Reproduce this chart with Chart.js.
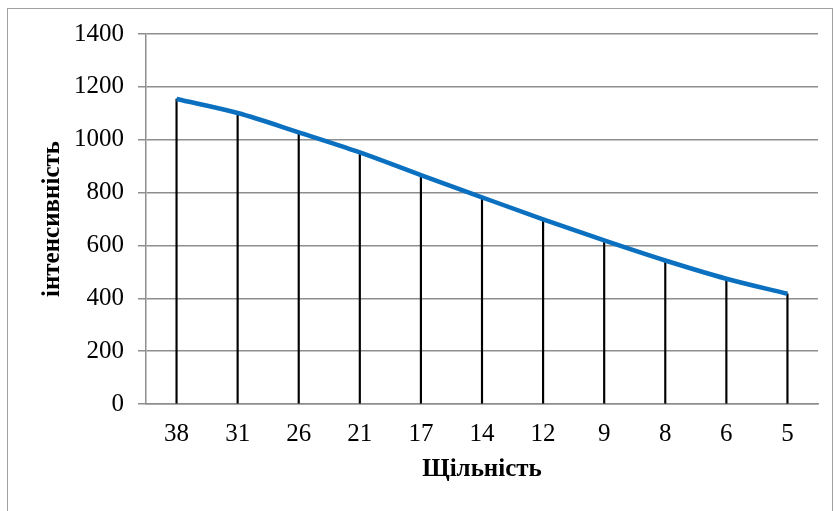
<!DOCTYPE html>
<html>
<head>
<meta charset="utf-8">
<script src="https://cdn.jsdelivr.net/npm/chart.js@4/dist/chart.umd.min.js"></script>
<style>
  html, body { margin: 0; padding: 0; background: #fff; }
  #frame { position: absolute; left: 7px; top: 8px; width: 824px; height: 520px;
           border-left: 1.5px solid #a0a0a0; border-top: 1.5px solid #a0a0a0; border-right: 1.5px solid #a0a0a0; }
  #wrap { position: absolute; left: 0; top: 0; width: 834px; height: 511px; }
</style>
</head>
<body>
<div id="frame"></div>
<div id="wrap"><canvas id="c" width="834" height="511"></canvas></div>
<script>
const categories = ['38', '31', '26', '21', '17', '14', '12', '9', '8', '6', '5'];
const intensity = [1154, 1101, 1028, 952, 866, 782, 699, 619, 543, 474, 417];
const yTicks = [0, 200, 400, 600, 800, 1000, 1200, 1400];
const xTitle = 'Щільність';
const yTitle = 'інтенсивність';

const FONT = "'Liberation Serif', 'Times New Roman', serif";
const GRID = '#8e8e8e';

new Chart(document.getElementById('c'), {
  data: {
    labels: categories,
    datasets: [
      {
        type: 'line',
        data: intensity,
        borderColor: '#0a70bf',
        borderWidth: 4.5,
        pointRadius: 0,
        cubicInterpolationMode: 'monotone',
        fill: false,
        order: 0
      },
      {
        type: 'bar',
        data: intensity,
        backgroundColor: '#000',
        barThickness: 1.5,
        order: 1
      }
    ]
  },
  options: {
    responsive: false,
    animation: false,
    events: [],
    layout: { padding: { left: 0, top: 34, right: 16, bottom: 0 } },
    plugins: { legend: { display: false }, tooltip: { enabled: false } },
    scales: {
      x: {
        offset: true,
        grid: { display: false, drawTicks: false },
        border: { display: true, color: GRID, width: 1.5 },
        ticks: { color: '#000', font: { family: FONT, size: 25 }, padding: 15, maxRotation: 0 },
        title: { display: true, text: xTitle, color: '#000',
                 font: { family: FONT, size: 25, weight: 'bold' }, padding: { top: 0, bottom: 26 } },
        afterFit: s => { s.height = 107; }
      },
      y: {
        min: 0, max: 1400,
        afterBuildTicks: s => { s.ticks = yTicks.map(v => ({ value: v })); },
        grid: { color: GRID, lineWidth: 1.5, tickLength: 8, tickColor: GRID },
        border: { display: true, color: GRID, width: 1.5 },
        ticks: { color: '#000', font: { family: FONT, size: 25 }, padding: 14,
                 callback: v => String(v) },
        title: { display: true, text: yTitle, color: '#000',
                 font: { family: FONT, size: 25, weight: 'bold' }, padding: { top: 38, bottom: 0 } },
        afterFit: s => { s.width = 146; }
      }
    }
  }
});
</script>
</body>
</html>
